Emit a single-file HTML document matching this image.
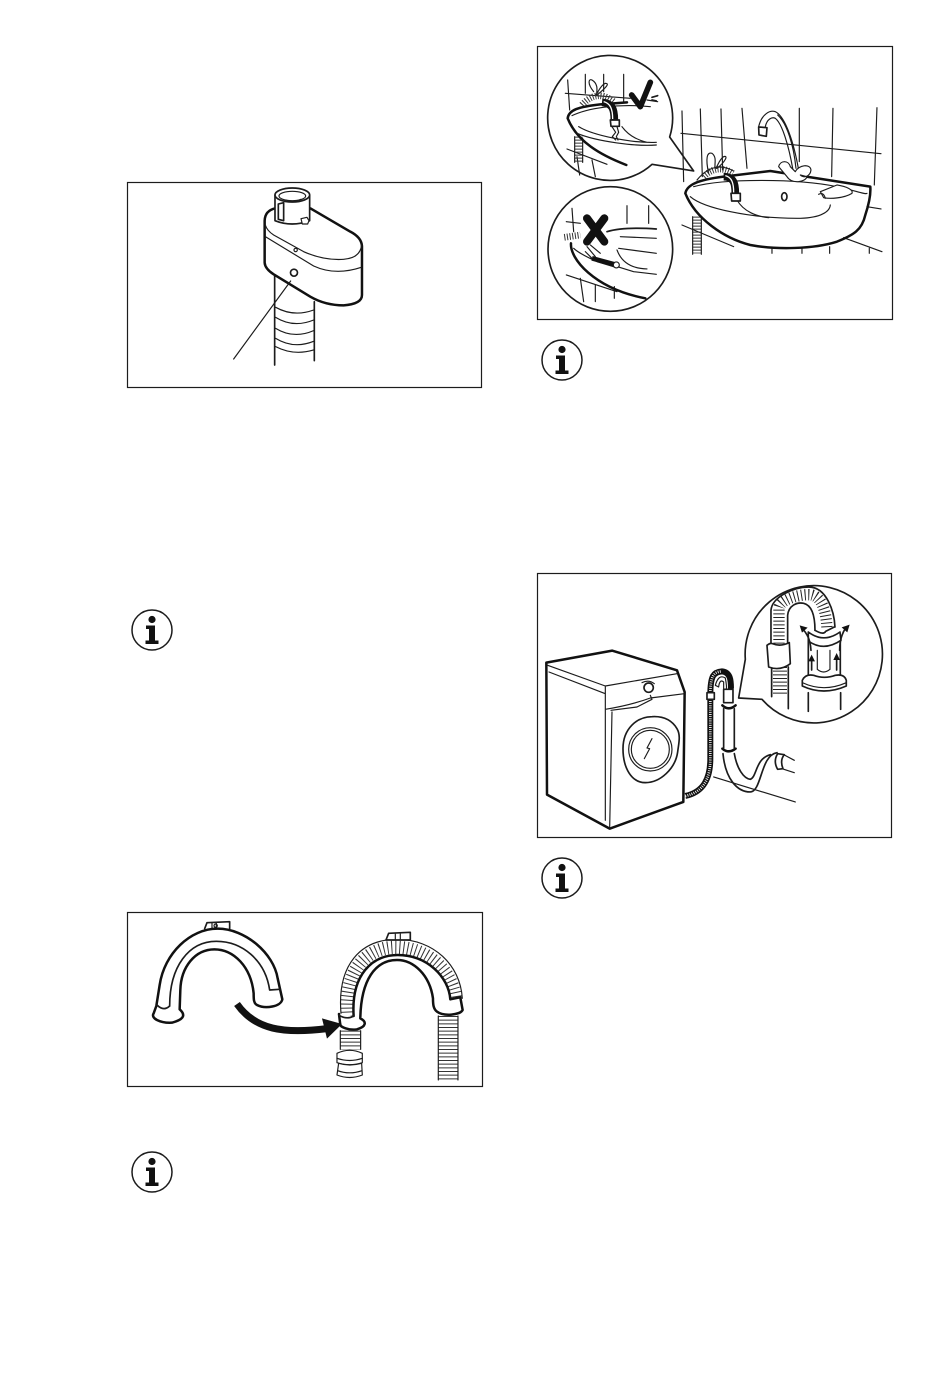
<!DOCTYPE html>
<html><head><meta charset="utf-8"><style>
html,body{margin:0;padding:0;background:#fff;width:950px;height:1374px;overflow:hidden}
svg{display:block}
.t{fill:none;stroke:#1c1c1c;stroke-width:3.500;stroke-linecap:round;stroke-linejoin:round}
.m{fill:none;stroke:#1c1c1c;stroke-width:5;stroke-linecap:round;stroke-linejoin:round}
.b{fill:none;stroke:#111;stroke-width:7.500;stroke-linecap:round;stroke-linejoin:round}
.w{fill:#fff}
.f{fill:none;stroke:#1c1c1c;stroke-width:1.2}
</style></head><body>
<svg width="950" height="1374" viewBox="0 0 950 1374" xmlns="http://www.w3.org/2000/svg">
<rect width="950" height="1374" fill="#fff"/>
<rect class="f" x="127.5" y="182.5" width="354" height="205"/>
<rect class="f" x="127.5" y="912.5" width="355" height="174"/>
<rect class="f" x="537.5" y="46.5" width="355" height="273"/>
<rect class="f" x="537.5" y="573.5" width="354" height="264"/>

<!-- Panel 1 -->
<g transform="translate(127,180) scale(.3333)">
<path class="m" d="M443 285V555M562 365V542"/>
<path class="t" d="M446 382Q500 412 560 390M446 412Q500 445 560 420M446 445Q500 478 560 452M446 475Q500 508 560 484M446 500Q500 528 560 510"/>
<path class="b w" d="M445 85Q414 92 413 122V248Q414 266 440 283L550 350Q595 376 650 376Q705 372 705 345V198Q703 172 670 155L550 85Z"/>
<path class="t" d="M415 135Q420 152 440 165L530 215Q590 242 650 238Q700 234 704 195"/>
<path class="t" d="M415 170L560 258Q625 288 703 262"/>
<path class="m w" d="M444 45V122Q495 142 548 122V45"/>
<ellipse class="m w" cx="496" cy="45" rx="52" ry="21"/>
<ellipse class="t" cx="496" cy="48" rx="40" ry="14"/>
<path class="t" d="M476 60Q500 68 522 58"/>
<path class="m w" d="M454 72L470 68V122L454 118Z"/>
<path class="t w" d="M522 116L540 112L546 122L542 132L526 132Z"/>
<circle class="t" cx="506" cy="210" r="5"/>
<circle class="m" cx="501" cy="278" r="10.500"/>
<path class="t" d="M320 537L491 303"/>
</g>

<!-- Panel 2 -->
<g transform="translate(127,910) scale(.3333)">
<path class="m" d="M233 56L240 38L308 35V56"/>
<path class="t" d="M255 38V55M268 38V55"/><circle class="t" cx="266" cy="47" r="5"/>
<path class="b w" d="M88 288L98 225C112 130 190 56 272 56C355 56 440 130 452 205L466 268C462 290 415 298 390 285C380 280 380 268 380 250C372 170 320 118 262 118C205 118 162 170 160 240L158 298C180 318 165 330 135 338C100 340 70 325 80 310Z"/>
<path class="m" d="M128 288C128 170 185 94 268 94C345 94 415 150 428 240L458 238"/>
<path class="m" d="M90 285Q110 305 128 288"/>

<path d="M662 320C650 180 720 112 805 112C900 112 975 180 985 265" fill="none" stroke="#333" stroke-width="40" stroke-dasharray="3 9"/>
<path class="t" d="M642 310C630 165 700 88 810 88C920 88 1000 165 1006 265"/>
<path class="m w" d="M777 90L785 70L850 67V90Z"/>
<path class="t" d="M805 72V88M820 72V88"/>
<path class="b w" d="M680 318C672 195 735 135 812 135C900 135 965 200 970 268L1000 262L1007 300C1000 315 950 320 930 305C920 298 918 285 918 265C908 195 860 150 810 150C745 150 702 210 700 325C720 335 718 350 690 358C665 362 640 350 640 345L636 312"/>
<path class="m" d="M636 316Q660 330 680 318"/>

<path d="M963 318V512" fill="none" stroke="#333" stroke-width="60" stroke-dasharray="3 8"/>
<path class="t" d="M934 318V510M993 318V510"/>
<path d="M670 362V418" fill="none" stroke="#333" stroke-width="60" stroke-dasharray="3 8"/>
<path class="t" d="M640 362V418M701 362V418"/>
<path class="t w" d="M630 430Q668 412 706 430V458Q668 470 630 458Z"/>
<path class="t" d="M630 445Q668 458 706 445"/>
<path class="t w" d="M635 460Q668 470 704 460L706 495Q668 510 630 495Z"/>
<path class="t" d="M632 482Q668 495 705 482"/>

<path d="M330 282C385 360 470 372 600 356" fill="none" stroke="#111" stroke-width="21"/>
<path d="M585 325L645 342L600 386Z" fill="#111"/>
</g>

<!-- Panel 3 : big sink -->
<g transform="translate(537,45) scale(.3333)">
<path class="t" d="M435 198L440 410M490 192L496 395M552 192L557 375M615 190L630 370M787 190V350M888 190L884 395M1020 188L1012 420"/>
<path class="t" d="M432 265L1032 326M990 485L1032 492M435 540L590 605M920 578L1035 620M705 610V625M795 610V625M878 605V625M997 610V625"/>
<path d="M480 515V625" fill="none" stroke="#333" stroke-width="25" stroke-dasharray="3 6"/>
<path class="t" d="M467 515V628M493 520V628"/>
<path class="t" d="M665 245C675 205 700 195 715 200C745 215 770 290 785 375M685 245C690 222 705 215 715 220C735 235 755 300 768 375M722 210C750 235 770 300 777 370"/>
<path class="m w" d="M665 246L690 248L688 274L666 270Z"/>
<path class="t" d="M515 385C505 340 510 320 525 325C545 340 525 370 540 370C565 350 575 330 560 335C545 345 540 370 535 370"/>
<path d="M500 395Q540 355 588 385" fill="none" stroke="#333" stroke-width="20" stroke-dasharray="3 5"/>
<path class="t" d="M480 405Q530 345 590 378"/>
<path class="b" d="M445 445C450 420 480 405 560 395L700 378L1000 425C1002 450 995 480 985 510C975 555 950 570 900 590C830 612 720 615 640 600C560 580 475 520 445 445Z"/>
<path class="t" d="M470 425C560 400 780 400 900 425C950 435 985 450 990 445M460 455C500 490 640 520 780 520C840 520 878 505 880 480M600 465C620 500 660 515 695 518"/>
<path class="t w" d="M850 440L900 420C930 425 950 435 945 445C920 460 880 462 860 458Z"/>
<path class="t" d="M845 448Q860 440 865 460"/>
<ellipse class="m" cx="742" cy="455" rx="8" ry="12"/>
<path d="M560 395C590 395 595 415 595 445" fill="none" stroke="#111" stroke-width="23"/>
<path d="M565 392C585 397 590 415 590 442" fill="none" stroke="#fff" stroke-width="4"/>
<path class="m w" d="M582 445H610V468H584Z"/>
<path class="t w" d="M725 365C730 345 755 345 760 365L775 380C785 360 820 355 822 375C820 395 800 400 790 390L810 395C805 412 765 418 750 395Z"/>
</g>

<!-- check circle -->
<g transform="translate(537,45) scale(.3333)">
<path class="t" d="M92 105L98 195M145 88V145M200 88V140M260 88V170M85 145L280 160M330 165L362 170"/>
<path class="t" d="M90 312L210 358M120 335L128 390M165 345L175 395"/>
<path d="M125 275V350" fill="none" stroke="#333" stroke-width="24" stroke-dasharray="3 6"/>
<path class="t" d="M113 275V352M137 280V352"/>
<path class="t" d="M170 140C150 115 155 100 165 105C190 120 175 150 180 150C205 130 220 115 205 115C190 120 180 150 175 150"/>
<path d="M135 180Q180 130 230 170" fill="none" stroke="#333" stroke-width="20" stroke-dasharray="3 5"/>
<path class="b" d="M268 360C190 330 120 290 92 220C95 195 125 185 190 178L270 172"/>
<path class="t" d="M105 212C150 190 240 175 340 185M125 245C165 270 280 295 358 292M120 265C180 290 300 305 358 300M255 245Q280 280 330 292"/>
<path d="M195 172C225 175 232 190 232 225" fill="none" stroke="#111" stroke-width="23"/>
<path d="M200 170C220 175 227 192 227 222" fill="none" stroke="#fff" stroke-width="4"/>
<path class="m w" d="M220 225H247V244H222Z"/>
<path class="t" d="M225 245L236 262L226 275L236 285M240 245L245 262L238 275L243 285"/>
<path d="M284 150L310 185L340 112" fill="none" stroke="#111" stroke-width="17" stroke-linecap="round" stroke-linejoin="round"/>
<path class="m" d="M345 157L362 152M345 165L358 168"/>
<path class="m" d="M398 276A187.500 187.500 0 1 0 345 358L470 378Z"/>
</g>

<!-- X circle -->
<g transform="translate(537,45) scale(.3333)">
<path class="t" d="M105 490L110 560M270 482V535M335 482V535M88 530L130 535M88 690L240 740M130 700L140 770M175 720V770M232 725V760"/>
<path class="m" d="M210 560Q260 545 358 552"/>
<path class="t" d="M250 575L358 580M245 610L358 625M240 615Q260 670 330 672M160 640L290 680L358 688"/>
<path d="M82 577L130 570" fill="none" stroke="#333" stroke-width="20" stroke-dasharray="3 5"/>
<path class="t" d="M150 605L175 635M160 600L190 625M145 620L165 640"/>
<path class="b" d="M102 595C98 640 170 730 325 760"/>
<path class="t" d="M110 610Q125 625 180 650L230 665"/>
<path d="M165 640L240 660" fill="none" stroke="#111" stroke-width="14"/>
<circle class="t w" cx="238" cy="660" r="9"/>
<path d="M150 520L202 590M202 520L150 590" fill="none" stroke="#111" stroke-width="24" stroke-linecap="round"/>
<circle class="m" cx="220" cy="612" r="187"/>
</g>

<!-- Panel 4 -->
<g transform="translate(537,572) scale(.3333)">
<path class="b" d="M28 272L226 236L420 295L443 360L439 690L218 770L30 668Z"/>
<path class="t" d="M32 280L205 342L420 305M36 300L205 365V410M205 342V745M225 420L218 770M205 412Q280 400 340 378L442 365M222 415L300 405L345 382L340 370"/>
<circle class="m" cx="335" cy="347" r="14"/>
<path class="t" d="M315 332Q335 322 352 335"/>
<path class="m" d="M258 530C258 470 300 434 345 434C380 432 405 445 420 470C432 490 425 515 422 540C415 590 370 632 325 632C285 632 258 590 258 530Z"/>
<circle class="t" cx="340" cy="532" r="65"/><circle class="t" cx="340" cy="532" r="57"/>
<path class="t" d="M322 560L338 530L330 528L345 500"/>

<path d="M445 672C500 660 520 620 520 560V370C520 310 530 300 555 298C580 300 582 325 582 350" fill="none" stroke="#111" stroke-width="18"/>
<path d="M445 672C500 660 520 620 520 560V370C520 310 530 300 555 298" fill="none" stroke="#fff" stroke-width="8" stroke-dasharray="2.500 4"/>
<path class="m w" d="M510 362H532V382H510Z"/>
<path class="t w" d="M535 340Q545 305 565 318Q570 345 568 352H560V330Q548 320 545 345Z"/>
<path class="m w" d="M560 352H588V392H560Z"/>
<path class="b" d="M556 400Q575 418 596 400M556 530Q575 546 596 530"/>
<path class="m" d="M560 410V528M592 410V528"/>
<path class="m" d="M558 545C565 620 600 660 640 660C675 658 670 550 720 542M592 545C600 590 620 620 640 622C660 615 655 560 700 548"/>
<path class="t" d="M530 615L775 690"/>
<path class="m w" d="M722 545Q708 568 722 592L738 590Q728 565 742 548Z"/>
<path class="t" d="M740 548L772 565M735 590L772 602"/>

<path class="m" d="M625 262A206 206 0 1 1 675 382L605 378Z"/>
<path d="M726 215V110C726 85 780 68 815 68C855 68 868 120 870 170" fill="none" stroke="#222" stroke-width="34" stroke-dasharray="3 8"/>
<path class="m" d="M702 215V115C705 75 770 45 815 45C870 45 892 120 894 165"/>
<path class="m" d="M752 215V130C755 100 780 90 800 94C825 100 834 130 834 175"/>
<path class="m" d="M834 175Q860 190 866 178M866 178L892 165"/>
<path d="M729 285V372" fill="none" stroke="#222" stroke-width="42" stroke-dasharray="3 8"/>
<path class="m" d="M704 285V374M754 285V410"/>
<path class="m w" d="M690 220Q700 212 706 215Q730 225 757 212L760 275Q730 298 695 285Z"/>
<path class="m w" d="M814 180Q860 215 909 180L912 205Q860 240 814 207Z"/>
<path class="t" d="M841 235V292M879 235V292M841 292Q860 308 879 292"/>
<path class="m" d="M814 207V310M910 207V310"/>
<path class="m w" d="M796 325Q805 305 830 310Q862 322 895 310Q922 305 928 325V342Q860 372 796 342Z"/>
<path class="t" d="M796 332Q860 362 928 332"/>
<path class="m" d="M814 362V418M911 362V412"/>
<path class="m" d="M824 294V262M899 294V262"/>
<path d="M824 248L814 268H834ZM899 243L889 264H909Z" fill="#111"/>
<path class="m" d="M822 235Q820 195 798 172M908 235Q908 195 926 168"/>
<path d="M788 160L812 167L795 182ZM938 158L914 166L931 181Z" fill="#111"/>
</g>

<!-- Info icons -->
<defs>
<g id="i">
<circle cx="0" cy="0" r="20" fill="none" stroke="#1c1c1c" stroke-width="1.500"/>
<circle cx="0" cy="-10.500" r="3.600" fill="#111"/>
<path d="M-6 -4.500H3V10.500H6.500V14H-6.500V10.500H-3V-1H-6Z" fill="#111"/>
</g>
</defs>
<use href="#i" x="152" y="630"/>
<use href="#i" x="152" y="1172"/>
<use href="#i" x="562" y="360"/>
<use href="#i" x="562" y="878"/>
</svg>
</body></html>
